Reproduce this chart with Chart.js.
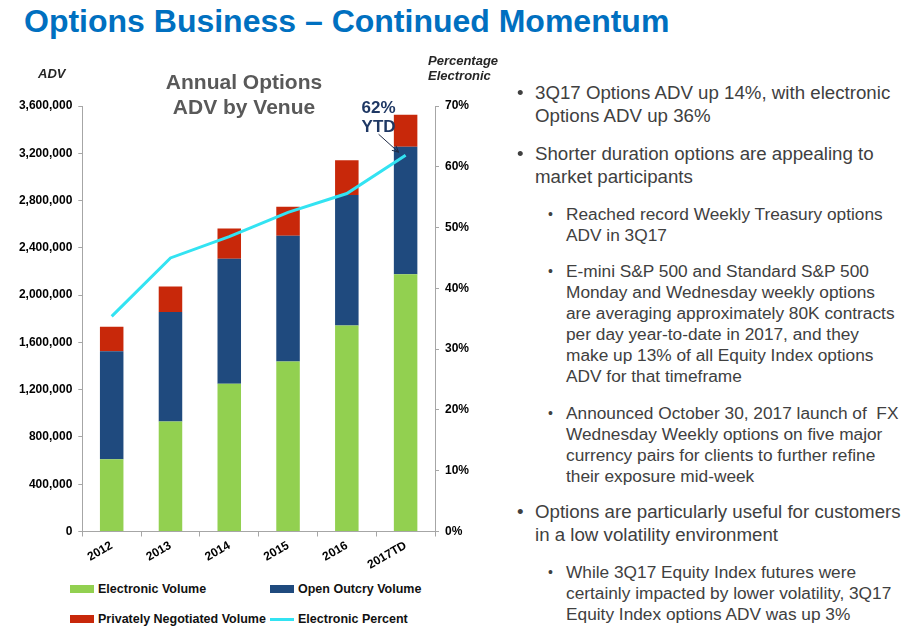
<!DOCTYPE html>
<html>
<head>
<meta charset="utf-8">
<script src="https://cdn.jsdelivr.net/npm/chart.js@4/dist/chart.umd.min.js"></script>
<style>
    html, body { margin: 0; padding: 0; background: #fff; }
    body { width: 908px; height: 637px; position: relative; overflow: hidden; font-family: "Liberation Sans", Arial, sans-serif; }
    #pageTitle { position: absolute; left: 24px; top: 3px; font-size: 32px; font-weight: bold; color: #0070c0; white-space: nowrap; }
    #chartWrap { position: absolute; left: 0; top: 0; width: 490px; height: 580px; }
    .lbl { position: absolute; white-space: nowrap; }
    #legend { position: absolute; left: 70px; top: 582px; width: 400px; font-size: 12.5px; font-weight: bold; color: #111; }
    .legItem { position: absolute; display: flex; align-items: center; }
    .legSwatch { width: 24px; margin-right: 4px; }
    #notes { position: absolute; left: 0; top: 0; color: #404040; }
    .b1 { position: absolute; left: 535px; font-size: 18.7px; line-height: 22.6px; white-space: nowrap; }
    .b2 { position: absolute; left: 566px; font-size: 17.3px; line-height: 20.9px; white-space: nowrap; }
    .b1::before, .b2::before { content: "\2022"; position: absolute; }
    .b1::before { left: -18px; }
    .b2::before { left: -18px; font-size: 14px; }
</style>
</head>
<body>
<div id="pageTitle">Options Business – Continued Momentum</div>

<div id="chartWrap"><canvas id="advChart" width="490" height="580"></canvas></div>

<div class="lbl" style="left:38px; top:66px; font-size:13px; font-weight:bold; font-style:italic; color:#262626;">ADV</div>
<div class="lbl" style="left:428px; top:53px; font-size:13px; font-weight:bold; font-style:italic; color:#262626; line-height:15px;">Percentage<br>Electronic</div>
<div class="lbl" style="left:145px; top:69px; width:198px; text-align:center; font-size:21px; font-weight:bold; color:#595959; line-height:25px;">Annual Options<br>ADV by Venue</div>

<div id="legend"></div>

<div id="notes">
    <div class="b1" style="top:82px;">3Q17 Options ADV up 14%, with electronic<br>Options ADV up 36%</div>
    <div class="b1" style="top:143px;">Shorter duration options are appealing to<br>market participants</div>
    <div class="b2" style="top:204px;">Reached record Weekly Treasury options<br>ADV in 3Q17</div>
    <div class="b2" style="top:261px;">E-mini S&amp;P 500 and Standard S&amp;P 500<br>Monday and Wednesday weekly options<br>are averaging approximately 80K contracts<br>per day year-to-date in 2017, and they<br>make up 13% of all Equity Index options<br>ADV for that timeframe</div>
    <div class="b2" style="top:403px;">Announced October 30, 2017 launch of&nbsp; FX<br>Wednesday Weekly options on five major<br>currency pairs for clients to further refine<br>their exposure mid-week</div>
    <div class="b1" style="top:501px;">Options are particularly useful for customers<br>in a low volatility environment</div>
    <div class="b2" style="top:562px;">While 3Q17 Equity Index futures were<br>certainly impacted by lower volatility, 3Q17<br>Equity Index options ADV was up 3%</div>
</div>

<script>
const years = ['2012', '2013', '2014', '2015', '2016', '2017TD'];
const electronicVolume = [612000, 930000, 1250000, 1439000, 1742000, 2176000];
const openOutcryVolume = [912000, 928000, 1057000, 1063000, 1104000, 1080000];
const privatelyNegotiatedVolume = [209000, 214000, 257000, 246000, 294000, 271000];
const electronicPercent = [35.4, 45.0, 48.5, 52.5, 55.6, 61.9];
const advTicks = [0, 400000, 800000, 1200000, 1600000, 2000000, 2400000, 2800000, 3200000, 3600000];
const pctTicks = [0, 10, 20, 30, 40, 50, 60, 70];

const tickFont = { family: '"Liberation Sans", Arial, sans-serif', size: 12, weight: 'bold' };
const axisGray = '#a6a6a6';

// "62% YTD" callout pointing at the last point of the percent line
const ytdCallout = {
    id: 'ytdCallout',
    afterDatasetsDraw(chart) {
        const { ctx } = chart;
        const last = chart.getDatasetMeta(3).data[years.length - 1];
        const x1 = last.x - 7;
        const y1 = last.y - 3;
        const x0 = x1 - 20;
        const y0 = y1 - 18;

        ctx.save();
        ctx.fillStyle = '#1f3864';
        ctx.font = 'bold 17px "Liberation Sans", Arial, sans-serif';
        ctx.textAlign = 'left';
        ctx.textBaseline = 'middle';
        ctx.fillText(Math.round(electronicPercent[years.length - 1]) + '%', x0 - 17, y0 - 26);
        ctx.fillText('YTD', x0 - 17, y0 - 7);

        ctx.strokeStyle = '#1f2a44';
        ctx.lineWidth = 1;
        ctx.beginPath();
        ctx.moveTo(x0, y0);
        ctx.lineTo(x1, y1);
        ctx.stroke();
        const ang = Math.atan2(y1 - y0, x1 - x0);
        ctx.beginPath();
        ctx.moveTo(x1, y1);
        ctx.lineTo(x1 - 7 * Math.cos(ang - 0.45), y1 - 7 * Math.sin(ang - 0.45));
        ctx.moveTo(x1, y1);
        ctx.lineTo(x1 - 7 * Math.cos(ang + 0.45), y1 - 7 * Math.sin(ang + 0.45));
        ctx.stroke();
        ctx.restore();
    },
};

const chart = new Chart(document.getElementById('advChart'), {
    type: 'bar',
    data: {
        labels: years,
        datasets: [
            {
                label: 'Electronic Volume',
                data: electronicVolume,
                backgroundColor: '#92d050',
                yAxisID: 'y',
                order: 1,
            },
            {
                label: 'Open Outcry Volume',
                data: openOutcryVolume,
                backgroundColor: '#1f4a7e',
                yAxisID: 'y',
                order: 1,
            },
            {
                label: 'Privately Negotiated Volume',
                data: privatelyNegotiatedVolume,
                backgroundColor: '#c8280a',
                yAxisID: 'y',
                order: 1,
            },
            {
                type: 'line',
                label: 'Electronic Percent',
                data: electronicPercent,
                borderColor: '#33e3f2',
                backgroundColor: '#33e3f2',
                borderWidth: 3,
                pointRadius: 0,
                tension: 0,
                yAxisID: 'yPct',
                order: 0,
            },
        ],
    },
    options: {
        responsive: false,
        animation: false,
        categoryPercentage: 0.4,
        barPercentage: 1,
        layout: { padding: { top: 106, right: 0, left: 0, bottom: 0 } },
        plugins: {
            legend: { display: false },
            tooltip: { enabled: false },
        },
        scales: {
            x: {
                stacked: true,
                grid: { display: true, drawOnChartArea: false, offset: true, tickLength: 5, color: axisGray },
                border: { color: axisGray, width: 1 },
                ticks: { font: tickFont, color: '#000', minRotation: 30, maxRotation: 30, padding: 2 },
                afterFit(scale) { scale.height = 48.5; },
            },
            y: {
                stacked: true,
                position: 'left',
                min: 0,
                max: advTicks[advTicks.length - 1],
                grid: { drawOnChartArea: false, tickLength: 4, color: axisGray },
                border: { color: axisGray, width: 1 },
                afterBuildTicks(scale) { scale.ticks = advTicks.map((value) => ({ value })); },
                ticks: {
                    font: tickFont,
                    color: '#000',
                    padding: 6,
                    callback: (value) => value.toLocaleString('en-US'),
                },
                afterFit(scale) { scale.width = 82.3; },
            },
            yPct: {
                position: 'right',
                min: 0,
                max: pctTicks[pctTicks.length - 1],
                grid: { drawOnChartArea: false, tickLength: 4, color: axisGray },
                border: { color: axisGray, width: 1 },
                afterBuildTicks(scale) { scale.ticks = pctTicks.map((value) => ({ value })); },
                ticks: {
                    font: tickFont,
                    color: '#000',
                    padding: 6,
                    callback: (value) => value + '%',
                },
                afterFit(scale) { scale.width = 55; },
            },
        },
    },
    plugins: [ytdCallout],
});

// 2x2 legend, built from the chart's datasets
const legendEl = document.getElementById('legend');
const legendSpots = [[0, 0], [200, 0], [0, 30], [200, 30]];
chart.data.datasets.forEach((ds, i) => {
    const item = document.createElement('div');
    item.className = 'legItem';
    item.style.left = legendSpots[i][0] + 'px';
    item.style.top = legendSpots[i][1] + 'px';
    const sw = document.createElement('span');
    sw.className = 'legSwatch';
    sw.style.height = ds.type === 'line' ? '3px' : '8px';
    sw.style.background = ds.type === 'line' ? ds.borderColor : ds.backgroundColor;
    const txt = document.createElement('span');
    txt.textContent = ds.label;
    item.appendChild(sw);
    item.appendChild(txt);
    legendEl.appendChild(item);
});
</script>
</body>
</html>
